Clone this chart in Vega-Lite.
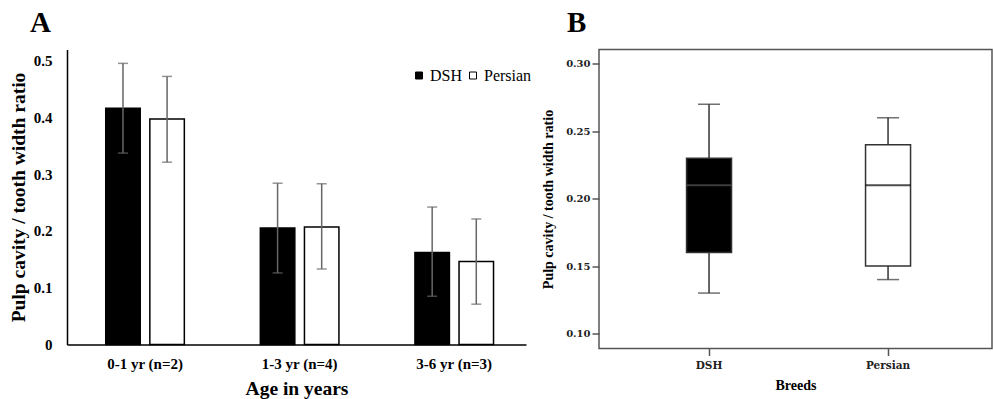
{
  "$schema": "https://vega.github.io/schema/vega-lite/v6.json",
  "padding": {"left": 8, "top": 7.5, "right": 0, "bottom": 0},
  "spacing": 14,
  "config": {"view": {"stroke": null}, "font": "Liberation Serif", "legend": {"labelFont": "Liberation Serif", "labelFontWeight": "normal"}},
  "resolve": {"scale": {"x": "independent", "y": "independent"}},
  "hconcat": [
    {
      "width": 459,
      "height": 295,
      "title": {"text": "A", "anchor": "start", "frame": "group", "dx": -37, "offset": 11.5, "fontSize": 29, "font": "Liberation Serif", "fontWeight": "bold", "color": "black"},
      "data": {"values": [
        {"age": "0-1 yr (n=2)", "breed": "DSH", "mean": 0.416, "lo": 0.337, "hi": 0.495},
        {"age": "0-1 yr (n=2)", "breed": "Persian", "mean": 0.397, "lo": 0.321, "hi": 0.472},
        {"age": "1-3 yr (n=4)", "breed": "DSH", "mean": 0.205, "lo": 0.126, "hi": 0.284},
        {"age": "1-3 yr (n=4)", "breed": "Persian", "mean": 0.207, "lo": 0.133, "hi": 0.283},
        {"age": "3-6 yr (n=3)", "breed": "DSH", "mean": 0.162, "lo": 0.085, "hi": 0.242},
        {"age": "3-6 yr (n=3)", "breed": "Persian", "mean": 0.146, "lo": 0.071, "hi": 0.221}
      ]},
      "encoding": {
        "x": {
          "field": "age", "type": "nominal",
          "sort": ["0-1 yr (n=2)", "1-3 yr (n=4)", "3-6 yr (n=3)"],
          "scale": {"paddingInner": 0.4916, "paddingOuter": 0.2303, "align": 0.544},
          "title": "Age in years",
          "axis": {"ticks": false, "labelAngle": 0, "domainColor": "black", "domainWidth": 1.5, "labelPadding": 12, "labelFont": "Liberation Serif", "labelFontWeight": "bold", "labelFontSize": 15, "labelColor": "black", "titleFont": "Liberation Serif", "titleFontWeight": "bold", "titleFontSize": 19.5, "titleColor": "black", "titlePadding": 8}
        },
        "xOffset": {"field": "breed", "type": "nominal", "sort": ["DSH", "Persian"], "scale": {"paddingInner": 0.218, "paddingOuter": 0}}
      },
      "layer": [
        {
          "mark": {"type": "bar", "stroke": "black", "strokeWidth": 1.5},
          "encoding": {
            "y": {
              "field": "mean", "type": "quantitative",
              "scale": {"domain": [0, 0.5194], "nice": false},
              "title": "Pulp cavity / tooth width ratio",
              "axis": {"values": [0, 0.1, 0.2, 0.3, 0.4, 0.5], "labelExpr": "datum.value == 0 ? '0' : format(datum.value, '.1f')", "ticks": false, "grid": false, "domainColor": "black", "domainWidth": 1.5, "labelFont": "Liberation Serif", "labelFontWeight": "bold", "labelFontSize": 15, "labelColor": "black", "labelPadding": 15, "titleFont": "Liberation Serif", "titleFontWeight": "bold", "titleFontSize": 19.5, "titleColor": "black", "titlePadding": 5}
            },
            "fill": {
              "field": "breed", "type": "nominal",
              "scale": {"domain": ["DSH", "Persian"], "range": ["black", "white"]},
              "legend": {"title": null, "orient": "none", "legendX": 344, "legendY": 18, "direction": "horizontal", "symbolType": "square", "symbolSize": 49, "symbolStrokeColor": "black", "symbolStrokeWidth": 1, "labelFont": "Liberation Serif", "labelFontSize": 16, "labelColor": "black", "columnPadding": 2, "labelOffset": 3, "padding": 0}
            }
          }
        },
        {
          "mark": {"type": "rule", "color": "#666", "strokeWidth": 1.5},
          "encoding": {"y": {"field": "lo", "type": "quantitative"}, "y2": {"field": "hi"}}
        },
        {
          "mark": {"type": "tick", "color": "#666", "size": 10, "thickness": 1.5},
          "encoding": {"y": {"field": "hi", "type": "quantitative"}}
        },
        {
          "mark": {"type": "tick", "color": "#666", "size": 10, "thickness": 1.5},
          "encoding": {"y": {"field": "lo", "type": "quantitative"}}
        }
      ]
    },
    {
      "width": 393,
      "height": 299,
      "view": {"stroke": "#555", "strokeWidth": 1.5},
      "title": {"text": "B", "anchor": "start", "frame": "group", "dx": -32, "offset": 11.5, "fontSize": 29, "font": "Liberation Serif", "fontWeight": "bold", "color": "black"},
      "data": {"values": [
        {"breed": "DSH", "min": 0.13, "q1": 0.16, "median": 0.21, "q3": 0.23, "max": 0.27},
        {"breed": "Persian", "min": 0.14, "q1": 0.15, "median": 0.21, "q3": 0.24, "max": 0.26}
      ]},
      "encoding": {
        "x": {
          "field": "breed", "type": "nominal", "sort": ["DSH", "Persian"],
          "scale": {"paddingInner": 0.7486, "paddingOuter": 0.472, "align": 0.518},
          "title": "Breeds",
          "axis": {"tickSize": 7, "tickColor": "#555", "tickWidth": 1.5, "domain": false, "labelAngle": 0, "labelFont": "DejaVu Serif", "labelFontWeight": "bold", "labelFontSize": 10.5, "labelColor": "#222", "labelPadding": 5, "titleFont": "Liberation Serif", "titleFontWeight": "bold", "titleFontSize": 14, "titleColor": "black", "titlePadding": 7}
        }
      },
      "layer": [
        {
          "mark": {"type": "rule", "color": "#333", "strokeWidth": 1.5},
          "encoding": {
            "y": {
              "field": "min", "type": "quantitative",
              "scale": {"domain": [0.0889, 0.3106], "nice": false, "zero": false},
              "title": "Pulp cavity / tooth width ratio",
              "axis": {"values": [0.1, 0.15, 0.2, 0.25, 0.3], "format": ".2f", "tickSize": 7, "tickColor": "#555", "tickWidth": 1.5, "domain": false, "grid": false, "labelFont": "DejaVu Serif", "labelFontWeight": "bold", "labelFontSize": 10, "labelColor": "#222", "labelPadding": 2, "titleFont": "Liberation Serif", "titleFontWeight": "bold", "titleFontSize": 14, "titleColor": "black", "titlePadding": 10}
            },
            "y2": {"field": "max"}
          }
        },
        {
          "mark": {"type": "bar", "stroke": "#333", "strokeWidth": 1.5},
          "encoding": {
            "y": {"field": "q1", "type": "quantitative", "title": "Pulp cavity / tooth width ratio"},
            "y2": {"field": "q3"},
            "fill": {"condition": {"test": "datum.breed === 'DSH'", "value": "black"}, "value": "white"}
          }
        },
        {
          "mark": {"type": "tick", "size": 45, "thickness": 2},
          "encoding": {
            "y": {"field": "median", "type": "quantitative", "title": "Pulp cavity / tooth width ratio"},
            "color": {"condition": {"test": "datum.breed === 'DSH'", "value": "#555"}, "value": "black"}
          }
        },
        {
          "mark": {"type": "tick", "size": 22, "thickness": 1.5, "color": "#333"},
          "encoding": {"y": {"field": "min", "type": "quantitative", "title": "Pulp cavity / tooth width ratio"}}
        },
        {
          "mark": {"type": "tick", "size": 22, "thickness": 1.5, "color": "#333"},
          "encoding": {"y": {"field": "max", "type": "quantitative", "title": "Pulp cavity / tooth width ratio"}}
        }
      ]
    }
  ]
}
